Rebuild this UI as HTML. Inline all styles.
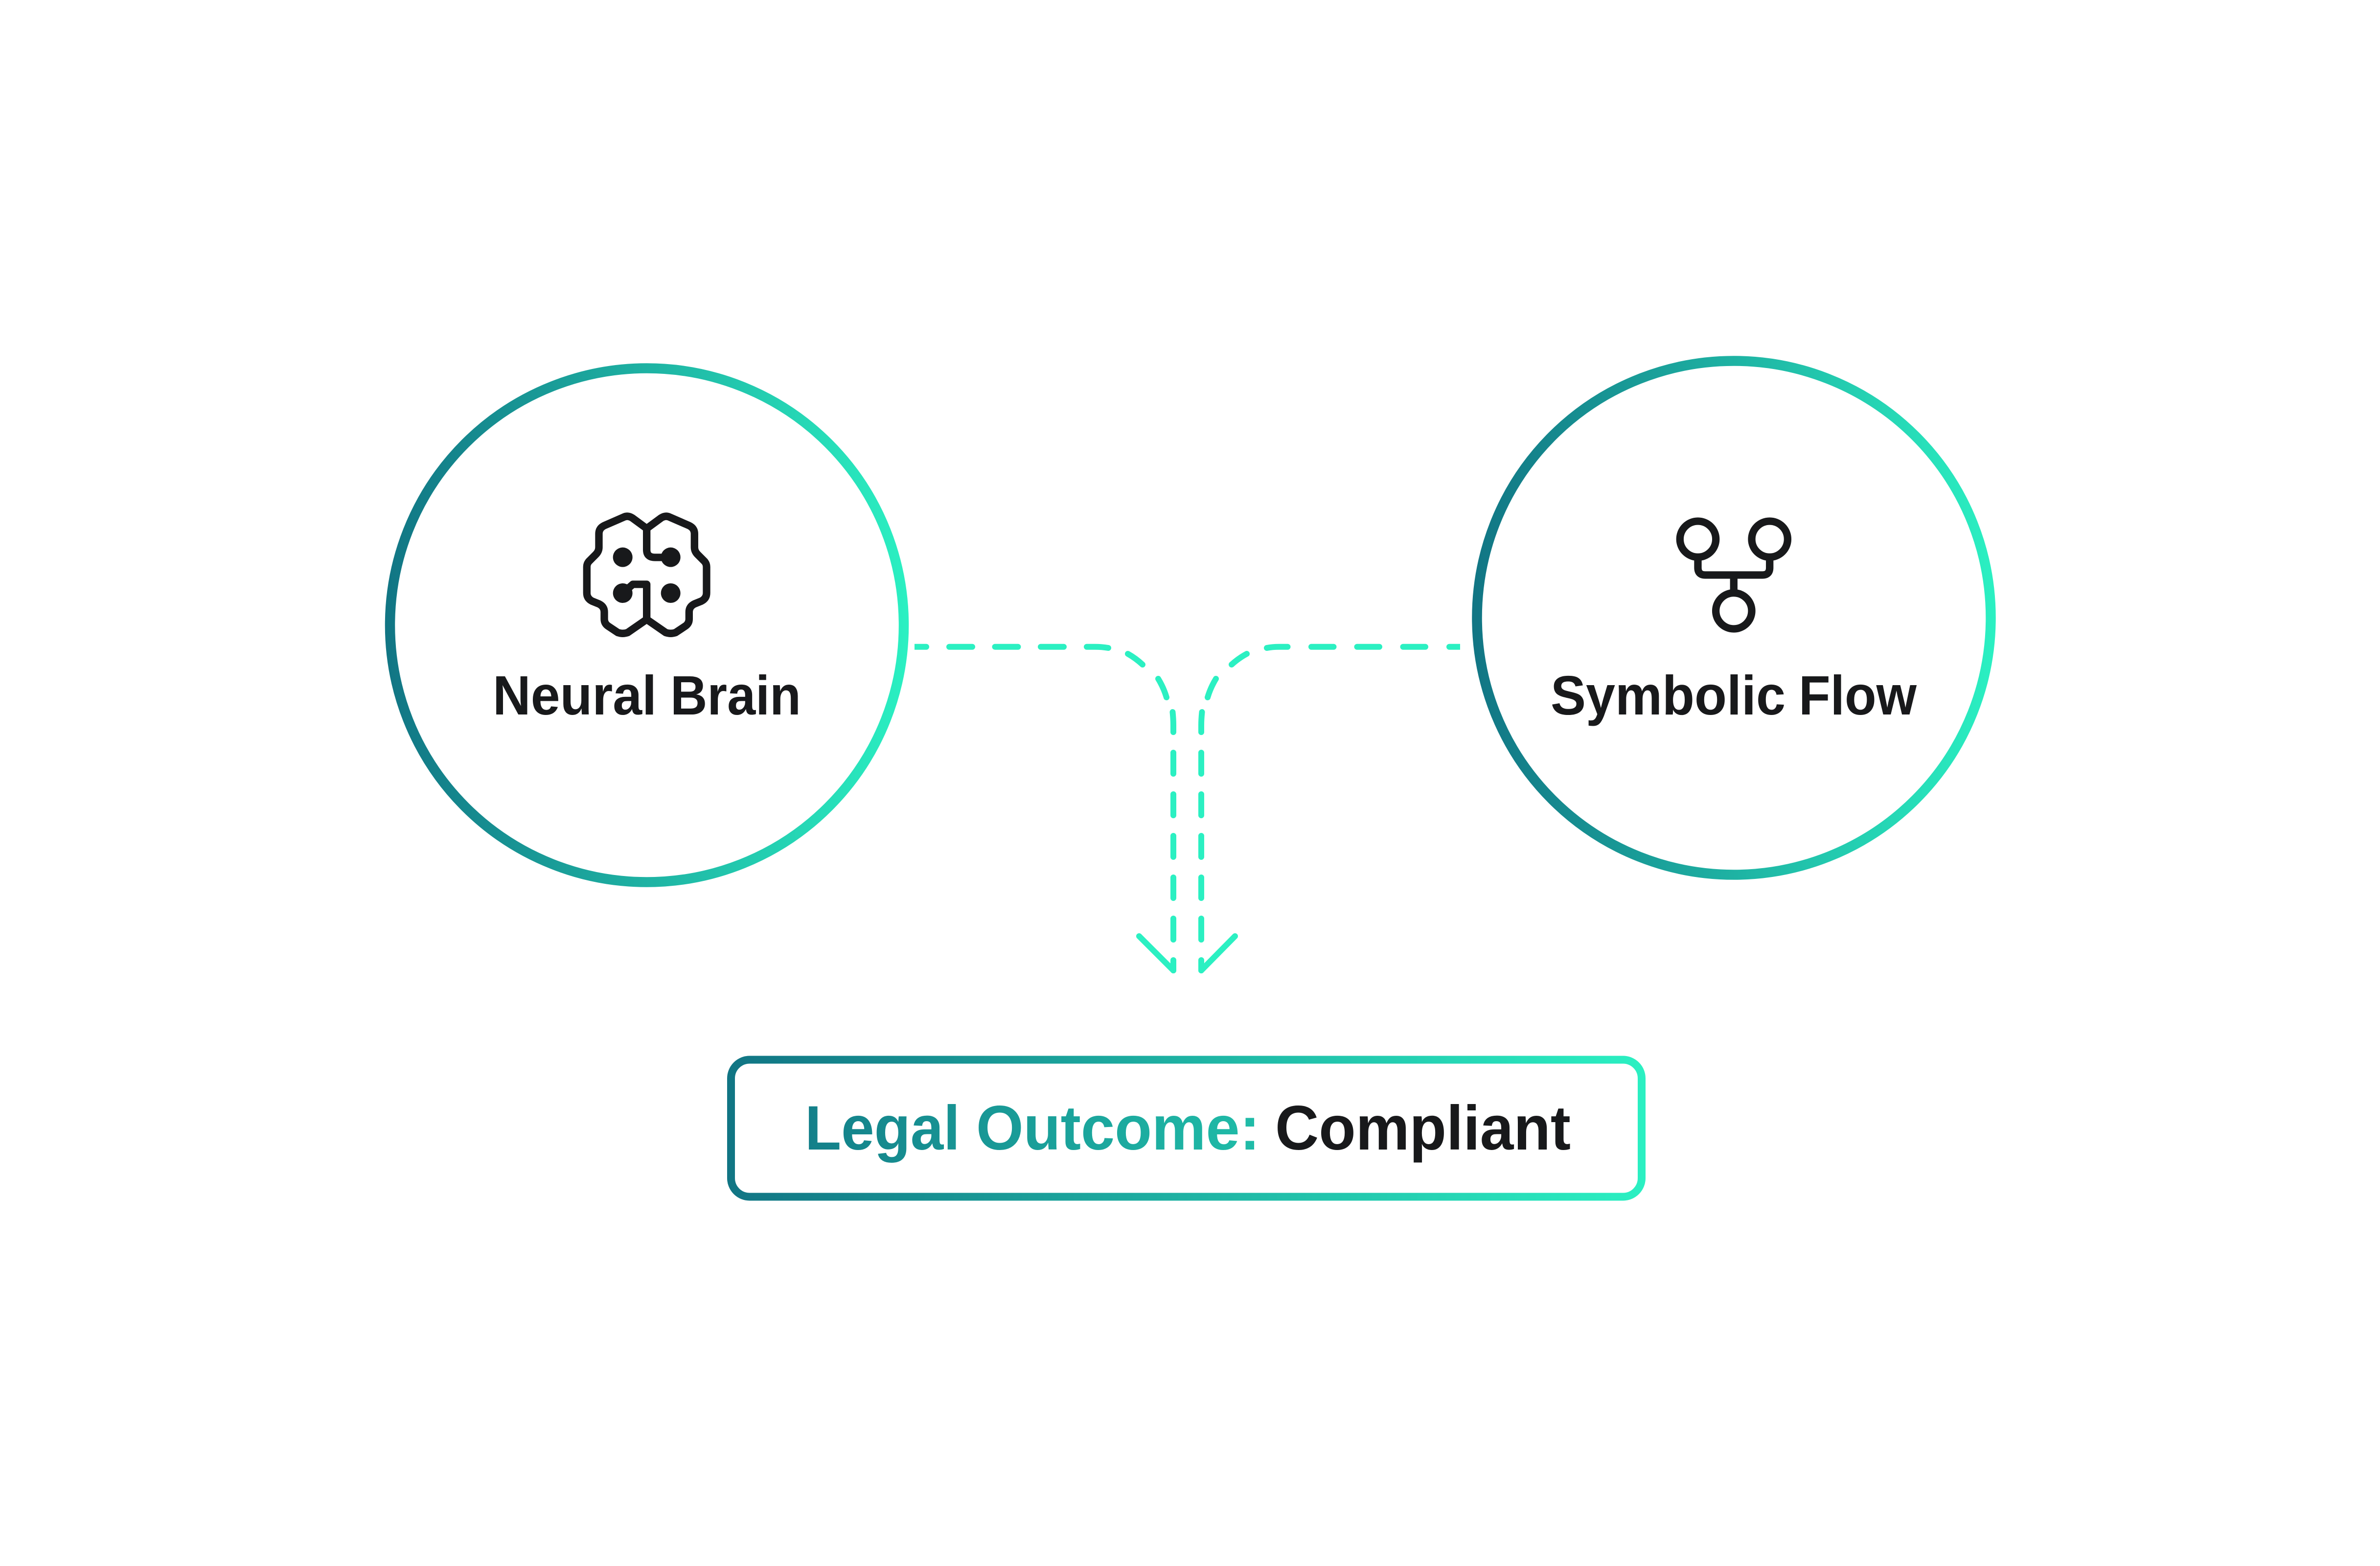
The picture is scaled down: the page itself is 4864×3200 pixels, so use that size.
<!DOCTYPE html>
<html><head><meta charset="utf-8"><style>
html,body{margin:0;padding:0;background:#fff}
svg{display:block}
text{font-family:"Liberation Sans",sans-serif;font-weight:bold;fill:#18191b}
</style></head><body>
<svg xmlns="http://www.w3.org/2000/svg" width="4864" height="3200" viewBox="0 0 4864 3200">
<defs>
<linearGradient id="g1" gradientUnits="userSpaceOnUse" x1="787" y1="0" x2="1857" y2="0"><stop offset="0" stop-color="#117584"/><stop offset="1" stop-color="#2bf0c2"/></linearGradient>
<linearGradient id="g2" gradientUnits="userSpaceOnUse" x1="3009" y1="0" x2="4078" y2="0"><stop offset="0" stop-color="#117584"/><stop offset="1" stop-color="#2bf0c2"/></linearGradient>
<linearGradient id="g3" gradientUnits="userSpaceOnUse" x1="1486" y1="0" x2="3363" y2="0"><stop offset="0" stop-color="#117584"/><stop offset="1" stop-color="#2bf0c2"/></linearGradient>
</defs>
<rect width="4864" height="3200" fill="#fff"/>

<g fill="none" stroke="#2bf0c2" stroke-width="12" stroke-linecap="round">
<path d="M1860 1321.700H1893M1940 1321.700H1987M2033.500 1321.700H2080.400M2127 1321.700H2174M2221 1321.700H2238Q2252 1321.700 2265 1324"/>
<path d="M2305 1336A160 160 0 0 1 2335 1358M2367 1387A160 160 0 0 1 2384 1425"/>
<path d="M2396.500 1455Q2398 1470 2398 1482V1496M2398 1538V1581M2398 1623V1666M2398 1708V1751M2398 1793V1835M2398 1877V1920M2398 1962V1983"/>
<path d="M2990 1321.700H2962M2913 1321.700H2867.500M2819 1321.700H2773.500M2725.500 1321.700H2680M2631.500 1321.700H2614Q2600 1321.700 2589 1324"/>
<path d="M2548 1336A160 160 0 0 0 2517 1358M2485 1387A160 160 0 0 0 2468 1425"/>
<path d="M2456.500 1455Q2455 1470 2455 1482V1496M2455 1538V1581M2455 1623V1666M2455 1708V1751M2455 1793V1835M2455 1877V1920M2455 1962V1983"/>
<path d="M2328 1913L2398 1983M2524 1913L2455 1983"/>
</g>
<rect x="1840" y="1300" width="29" height="44" fill="#fff"/>
<rect x="2984" y="1300" width="30" height="44" fill="#fff"/>

<circle cx="1322" cy="1277.500" r="525" fill="none" stroke="url(#g1)" stroke-width="20.500"/>
<circle cx="3543.500" cy="1262.500" r="525" fill="none" stroke="url(#g2)" stroke-width="20.500"/>
<rect x="1494" y="2165.500" width="1861" height="280" rx="38" ry="38" fill="#fff" stroke="url(#g3)" stroke-width="16"/>

<g transform="translate(1100 1000) scale(0.33333)" fill="none" stroke="#18191b" stroke-width="46" stroke-linejoin="round" stroke-linecap="round">
<path d="M665 240L578 176Q548 156 520 172L405 222Q372 238 372 272V355Q372 380 352 400L312 440Q298 455 298 475V635Q298 670 332 686L372 702Q405 718 405 752V795Q405 822 428 838L488 878Q518 888 548 878L665 797"/>
<path d="M665 240L752 176Q782 156 810 172L925 222Q958 238 958 272V355Q958 380 978 400L1018 440Q1032 455 1032 475V635Q1032 670 998 686L958 702Q925 718 925 752V795Q925 822 902 838L842 878Q812 888 782 878L665 797"/>
<path d="M665 240V370Q665 417 715 417H812"/>
<path d="M665 797V582H580L518 636"/>
<g fill="#18191b" stroke="none">
<circle cx="518" cy="416" r="60"/><circle cx="812" cy="416" r="60"/><circle cx="518" cy="636" r="60"/><circle cx="812" cy="636" r="60"/>
</g>
</g>

<g fill="none" stroke="#18191b" stroke-width="15.300">
<circle cx="3470" cy="1101.700" r="36.700"/>
<circle cx="3616.700" cy="1101.700" r="36.700"/>
<circle cx="3543.300" cy="1248.300" r="36.700"/>
<path d="M3470 1138V1160Q3470 1175 3485 1175H3601.700Q3616.700 1175 3616.700 1160V1138M3543.300 1175V1212"/>
</g>

<text x="1007" y="1460" font-size="113" textLength="335" lengthAdjust="spacingAndGlyphs">Neural</text>
<text x="1370" y="1460" font-size="113" textLength="267" lengthAdjust="spacingAndGlyphs">Brain</text>
<text x="3169" y="1460" font-size="113" textLength="480" lengthAdjust="spacingAndGlyphs">Symbolic</text>
<text x="3676" y="1460" font-size="113" textLength="241" lengthAdjust="spacingAndGlyphs">Flow</text>
<text x="1645" y="2349" font-size="128" textLength="317" lengthAdjust="spacingAndGlyphs" style="fill:url(#g3)">Legal</text>
<text x="1995" y="2349" font-size="128" textLength="580" lengthAdjust="spacingAndGlyphs" style="fill:url(#g3)">Outcome:</text>
<text x="2606" y="2349" font-size="128" textLength="604" lengthAdjust="spacingAndGlyphs">Compliant</text>
</svg>
</body></html>
